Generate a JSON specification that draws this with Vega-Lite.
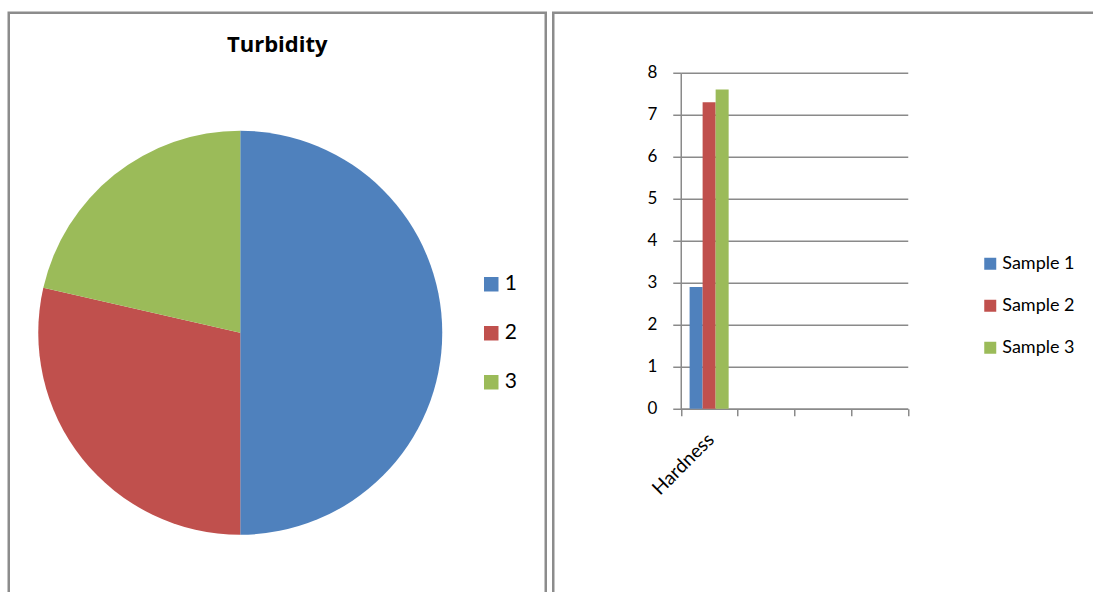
{
  "$schema": "https://vega.github.io/schema/vega-lite/v6.json",
  "padding": {"left": 6.75, "top": 10.75, "right": 0, "bottom": 0},
  "background": "white",
  "spacing": 3.5,
  "resolve": {"scale": {"color": "independent"}, "legend": {"color": "independent"}},
  "config": {
    "font": "Lato",
    "view": {"stroke": "#8c8c8c", "strokeWidth": 2.5},
    "axis": {
      "labelFont": "Lato",
      "labelColor": "#000000",
      "labelFontSize": 17,
      "domainColor": "#8a8a8a",
      "tickColor": "#8a8a8a",
      "gridColor": "#8a8a8a",
      "domainWidth": 1.5,
      "tickWidth": 1.5,
      "gridWidth": 1.5,
      "gridOpacity": 1
    },
    "legend": {"labelFont": "Lato", "labelColor": "#000000"}
  },
  "hconcat": [
    {
      "width": 537,
      "height": 640,
      "view": {"stroke": "#8c8c8c", "strokeWidth": 2.5},
      "title": {
        "text": "Turbidity",
        "fontSize": 22,
        "fontWeight": "bold",
        "font": "Open Sans",
        "color": "#000000",
        "offset": -61,
        "baseline": "alphabetic"
      },
      "data": {
        "values": [
          {"category": "1", "value": 7},
          {"category": "2", "value": 4},
          {"category": "3", "value": 3}
        ]
      },
      "mark": {"type": "arc", "outerRadius": 202, "x": 231.5},
      "encoding": {
        "theta": {"field": "value", "type": "quantitative", "stack": true},
        "order": {"field": "category", "type": "ordinal"},
        "color": {
          "field": "category",
          "type": "nominal",
          "scale": {"domain": ["1", "2", "3"], "range": ["#4F81BD", "#C0504D", "#9BBB59"]},
          "legend": {
            "orient": "none",
            "legendX": 472,
            "legendY": 261,
            "title": null,
            "symbolType": "square",
            "symbolSize": 210,
            "symbolStrokeWidth": 0,
            "labelFontSize": 21,
            "rowPadding": 27,
            "labelOffset": 3
          }
        }
      }
    },
    {
      "width": 560,
      "height": 640,
      "data": {
        "values": [
          {"param": "Hardness", "sample": "Sample 1", "value": 2.9},
          {"param": "Hardness", "sample": "Sample 2", "value": 7.3},
          {"param": "Hardness", "sample": "Sample 3", "value": 7.6}
        ]
      },
      "mark": {"type": "bar"},
      "encoding": {
        "x": {
          "field": "param",
          "type": "nominal",
          "scale": {"domain": ["Hardness", "B", "C", "D"], "range": [127.5, 354.5], "paddingInner": 0, "paddingOuter": 0},
          "axis": {
            "orient": "bottom",
            "offset": -244,
            "tickBand": "extent",
            "tickSize": 7,
            "labelAngle": -45,
            "labelExpr": "datum.value == 'Hardness' ? datum.label : ''",
            "labelFontSize": 19,
            "labelPadding": 14,
            "labelOffset": -5,
            "title": null,
            "grid": false
          }
        },
        "xOffset": {
          "field": "sample",
          "type": "nominal",
          "scale": {"paddingInner": 0, "paddingOuter": 0.68}
        },
        "y": {
          "field": "value",
          "type": "quantitative",
          "scale": {"domain": [0, 8], "range": [396, 60], "nice": false},
          "axis": {
            "offset": -127.5,
            "values": [0, 1, 2, 3, 4, 5, 6, 7, 8],
            "tickSize": 8,
            "labelPadding": 16,
            "title": null,
            "grid": true
          }
        },
        "color": {
          "field": "sample",
          "type": "nominal",
          "scale": {"domain": ["Sample 1", "Sample 2", "Sample 3"], "range": ["#4F81BD", "#C0504D", "#9BBB59"]},
          "legend": {
            "orient": "none",
            "legendX": 428,
            "legendY": 242,
            "title": null,
            "symbolType": "square",
            "symbolSize": 144,
            "symbolStrokeWidth": 0,
            "labelFontSize": 18,
            "rowPadding": 24,
            "labelOffset": 3
          }
        }
      }
    }
  ]
}
